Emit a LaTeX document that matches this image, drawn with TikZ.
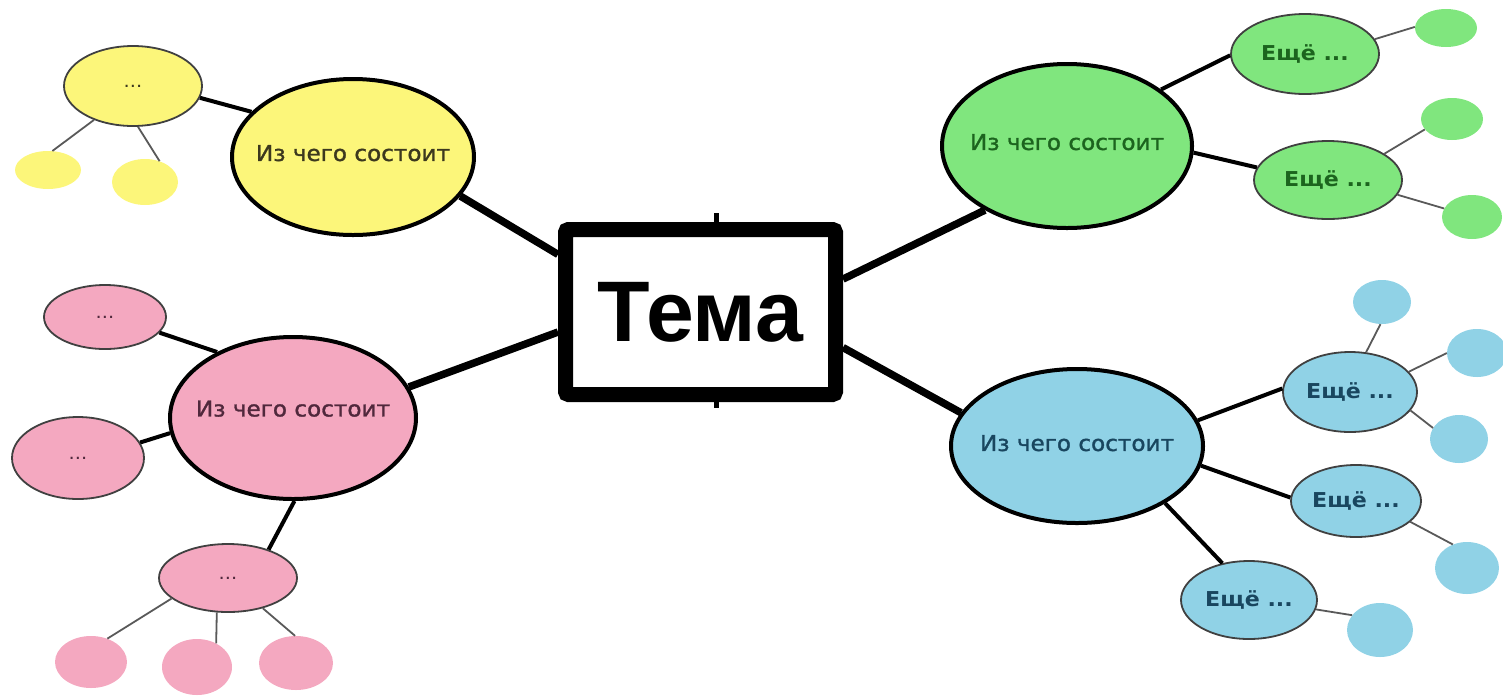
\documentclass[tikz,border=0pt]{standalone}
\usepackage{fontspec}
\setmainfont{DejaVu Sans}
\newfontfamily\partfont[FakeStretch=1.06,FakeBold=1.3]{DejaVu Sans}
\newfontfamily\detailfont[FakeStretch=1.08]{DejaVu Sans}
\newfontfamily\themefont{Liberation Sans}
\usetikzlibrary{
    positioning,
    shapes.geometric
}
\definecolor{mapyellow}{RGB}{252,246,122}
\definecolor{mappink}{RGB}{244,168,192}
\definecolor{mapgreen}{RGB}{128,230,126}
\definecolor{mapblue}{RGB}{144,210,230}
\definecolor{yellowtext}{RGB}{60,56,30}
\definecolor{pinktext}{RGB}{80,40,60}
\definecolor{greentext}{RGB}{28,100,30}
\definecolor{bluetext}{RGB}{25,70,95}
\newcommand{\nowidth}[1]{\makebox[0pt]{#1}}
\tikzset{
    % Colors
    yellow part/.style={fill=mapyellow,text=yellowtext},
    pink part/.style={fill=mappink,text=pinktext},
    green part/.style={fill=mapgreen,text=greentext},
    blue part/.style={fill=mapblue,text=bluetext},
    %
    % Nodes
    radii/.style 2 args={minimum width=2*#1,minimum height=2*#2},
    theme box/.style={rectangle,draw,line width=15pt,rounded corners=3pt,fill=white,
        minimum width=270,minimum height=165,font=\themefont\bfseries\fontsize{86}{90}\selectfont},
    part/.style={ellipse,draw,line width=4pt,inner sep=0pt,text depth=8pt,
        font=\partfont\fontsize{21.8}{24}\selectfont},
    detail/.style={ellipse,draw=black!75,line width=1.8pt,inner sep=0pt,
        font=\detailfont\bfseries\fontsize{20.5}{22}\selectfont},
    dots/.style={font=\detailfont\fontsize{18}{20}\selectfont},
    leaf/.style={ellipse,inner sep=0pt},
    %
    % Connectors
    trunk/.style={line width=7.5pt},
    branch/.style={line width=4pt},
    twig/.style={line width=1.8pt,black!65},
    stub line/.style={line width=5pt},
}

\begin{document}
\begin{tikzpicture}[x=1pt,y=-1pt]
    \useasboundingbox (0,0) rectangle (1503,697);
    \node[theme box] (theme) at (700.5,312) {Тема};
    % yellow
    \node[part,yellow part,radii={121}{78}] (yellow) at (353,157) {\nowidth{Из чего состоит}};
    \node[detail,yellow part,radii={69}{40},dots] (ydots) at (133,86) {...};
    \node[leaf,fill=mapyellow,radii={33}{19}] (yleafA) at (48,170) {};
    \node[leaf,fill=mapyellow,radii={33}{23}] (yleafB) at (145,182) {};
    % pink
    \node[part,pink part,radii={123}{81},text depth=19pt] (pink) at (293,418) {\nowidth{Из чего состоит}};
    \node[detail,pink part,radii={61}{32},dots] (ptop) at (105,317) {...};
    \node[detail,pink part,radii={66}{41},dots] (pleft) at (78,458) {...};
    \node[detail,pink part,radii={69}{34},dots] (pbottom) at (228,578) {...};
    \node[leaf,fill=mappink,radii={36}{26}] (pleafA) at (91,662) {};
    \node[leaf,fill=mappink,radii={35}{28}] (pleafB) at (197,667) {};
    \node[leaf,fill=mappink,radii={37}{27}] (pleafC) at (296,663) {};
    % green
    \node[part,green part,radii={125}{82}] (green) at (1067,146) {\nowidth{Из чего состоит}};
    \node[detail,green part,radii={74}{40}] (gtop) at (1305,54) {Ещё ...};
    \node[detail,green part,radii={74}{39}] (gbottom) at (1328,180) {Ещё ...};
    \node[leaf,fill=mapgreen,radii={31}{19}] (gleafA) at (1446,28) {};
    \node[leaf,fill=mapgreen,radii={31}{21}] (gleafB) at (1452,119) {};
    \node[leaf,fill=mapgreen,radii={30}{22}] (gleafC) at (1472,217) {};
    % blue
    \node[part,blue part,radii={126}{77},text depth=6pt] (blue) at (1077,446) {\nowidth{Из чего состоит}};
    \node[detail,blue part,radii={67}{40}] (bone) at (1350,392) {Ещё ...};
    \node[detail,blue part,radii={65}{36}] (btwo) at (1356,501) {Ещё ...};
    \node[detail,blue part,radii={68}{39}] (bthree) at (1249,600) {Ещё ...};
    \node[leaf,fill=mapblue,radii={29}{22}] (bleafA) at (1382,302) {};
    \node[leaf,fill=mapblue,radii={30}{24}] (bleafB) at (1477,353) {};
    \node[leaf,fill=mapblue,radii={29}{24}] (bleafC) at (1459,439) {};
    \node[leaf,fill=mapblue,radii={32}{26}] (bleafD) at (1467,568) {};
    \node[leaf,fill=mapblue,radii={33}{27}] (bleafE) at (1380,630) {};

    % theme to parts
    \draw[trunk] (theme.158) -- (yellow.-20);
    \draw[trunk] (theme.188) -- (pink.15);
    \draw[trunk] (theme.13) -- (green.218);
    \draw[trunk] (theme.346) -- (blue.164);
    \coordinate (stub) at (716,0);
    \draw[stub line] (theme.north -| stub) -- ++(0,-9);
    \draw[stub line] (theme.south -| stub) -- ++(0,6);
    % parts to details
    \draw[branch] (ydots.350) -- (yellow.156);
    \draw[branch] (ptop.344) -- (pink.139);
    \draw[branch] (pleft.14) -- (pink.187);
    \draw[branch] (pbottom.35) -- (pink.271);
    \draw[branch] (green.31) -- (gtop.181);
    \draw[branch] (green.357) -- (gbottom.170);
    \draw[branch] (blue.12) -- (bone.177);
    \draw[branch] (blue.351) -- (btwo.177);
    \draw[branch] (blue.327) -- (bthree.126);
    % details to leaves
    \draw[twig] (ydots.221) -- (yleafA.77);
    \draw[twig] (ydots.277) -- (yleafB.55);
    \draw[twig] (pbottom.200) -- (pleafA.55);
    \draw[twig] (pbottom.252) -- (pleafB.51);
    \draw[twig] (pbottom.319) -- (pleafC.92);
    \draw[twig] (gtop.12) -- (gleafA.178);
    \draw[twig] (gbottom.25) -- (gleafB.201);
    \draw[twig] (gbottom.348) -- (gleafC.163);
    \draw[twig] (bone.68) -- (bleafA.266);
    \draw[twig] (bone.19.5) -- (bleafB.180);
    \draw[twig] (bone.343) -- (bleafC.157);
    \draw[twig] (btwo.339) -- (bleafD.121);
    \draw[twig] (bthree.352) -- (bleafE.152);
\end{tikzpicture}
\end{document}
